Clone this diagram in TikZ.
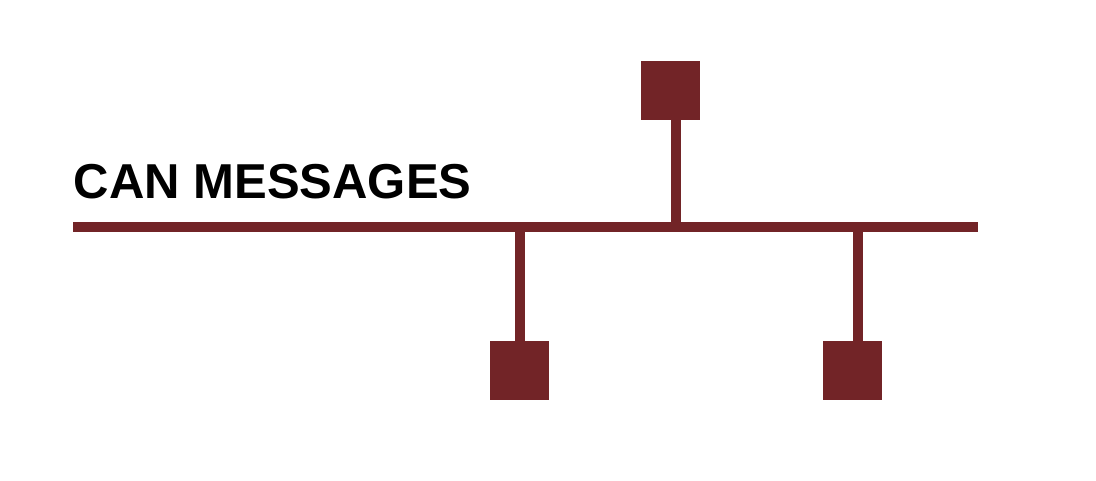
\documentclass[tikz,border=0pt]{standalone}
\usepackage{fontspec}
\setmainfont{Liberation Sans}
\usepackage{tikz}
\usetikzlibrary{calc}
\definecolor{canred}{RGB}{114,36,39}

\begin{document}
\begin{tikzpicture}[wire/.style={canred,line width=0.2cm},
    ecu/.style={fill=canred,draw=none,minimum size=1.18cm,inner sep=0pt}]
    \useasboundingbox (0,0) rectangle (21.92,9.6);
    % bus ends and taps
    \coordinate (busL) at (1.46,5.06);
    \coordinate (busR) at (19.56,5.06);
    \coordinate (tapA) at (10.40,5.06);
    \coordinate (tapB) at (13.52,5.06);
    \coordinate (tapC) at (17.16,5.06);
    % nodes on the bus
    \node[ecu] (ecuA) at (10.39,2.19) {};
    \node[ecu] (ecuB) at (13.41,7.79) {};
    \node[ecu] (ecuC) at (17.05,2.19) {};
    % title
    \node[anchor=base west,inner sep=0pt,font=\bfseries\fontsize{27.9}{30}\selectfont] (title) at (1.47,5.64) {CAN MESSAGES};
    % bus line
    \draw[wire] (busL) -- (busR);
    % stubs
    \draw[wire] (tapA) -- (tapA |- ecuA.north);
    \draw[wire] (tapB) -- (tapB |- ecuB.south);
    \draw[wire] (tapC) -- (tapC |- ecuC.north);
\end{tikzpicture}
\end{document}
